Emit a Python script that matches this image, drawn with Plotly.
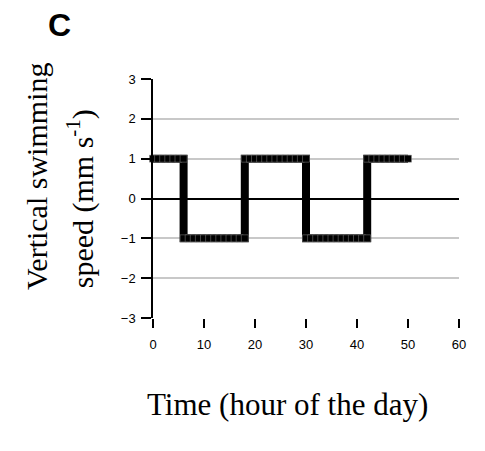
import plotly.graph_objects as go

time_h = [0, 1, 2, 3, 4, 5, 6,
          6, 7, 8, 9, 10, 11, 12, 13, 14, 15, 16, 17, 18,
          18, 19, 20, 21, 22, 23, 24, 25, 26, 27, 28, 29, 30,
          30, 31, 32, 33, 34, 35, 36, 37, 38, 39, 40, 41, 42,
          42, 43, 44, 45, 46, 47, 48, 49, 50]
speed = [1, 1, 1, 1, 1, 1, 1,
         -1, -1, -1, -1, -1, -1, -1, -1, -1, -1, -1, -1, -1,
         1, 1, 1, 1, 1, 1, 1, 1, 1, 1, 1, 1, 1,
         -1, -1, -1, -1, -1, -1, -1, -1, -1, -1, -1, -1, -1,
         1, 1, 1, 1, 1, 1, 1, 1, 1]
x_ticks = [0, 10, 20, 30, 40, 50, 60]
y_ticks = [-3, -2, -1, 0, 1, 2, 3]

fig = go.Figure()
fig.add_trace(go.Scatter(
    x=time_h, y=speed, mode="lines+markers",
    line=dict(color="black", width=8),
    marker=dict(symbol="square", size=7, color="black",
                line=dict(color="#888888", width=0.5)),
    cliponaxis=False, showlegend=False,
))

serif = "Liberation Serif, Times New Roman, serif"
fig.update_layout(
    width=485, height=451,
    margin=dict(l=153, r=26, t=79, b=133),
    paper_bgcolor="white", plot_bgcolor="white",
    font=dict(family="Liberation Sans, Arial", size=13, color="black"),
    xaxis=dict(range=[0, 60], tickvals=x_ticks, showgrid=False, zeroline=False,
               showline=False, ticks="outside", ticklen=9, tickcolor="black",
               tickwidth=1.5, tickfont=dict(size=13), ticklabelstandoff=5),
    yaxis=dict(range=[-3, 3], tickvals=y_ticks, showgrid=True, gridcolor="#c8c8c8",
               gridwidth=1.5, zeroline=True, zerolinecolor="black", zerolinewidth=1.5,
               showline=True, linecolor="black", linewidth=1.5, ticks="outside",
               ticklen=10, tickcolor="black", tickwidth=1.5, tickfont=dict(size=13),
               ticklabelstandoff=3),
    annotations=[
        dict(text="<b>C</b>", x=-0.304, y=1.226, xref="paper", yref="paper",
             xanchor="center", yanchor="middle",
             showarrow=False, font=dict(family="Liberation Sans, Arial", size=32)),
        dict(text="Vertical swimming", x=-0.379, y=0.590,
             xref="paper", yref="paper", xanchor="center", yanchor="middle",
             showarrow=False, textangle=-90,
             font=dict(family=serif, size=30)),
        dict(text="speed (mm s<sup>-1</sup>)", x=-0.236, y=0.500,
             xref="paper", yref="paper", xanchor="center", yanchor="middle",
             showarrow=False, textangle=-90,
             font=dict(family=serif, size=30)),
        dict(text="Time (hour of the day)", x=0.441, y=-0.364, xref="paper", yref="paper",
             xanchor="center", yanchor="middle",
             showarrow=False, font=dict(family=serif, size=31)),
    ],
)

fig.write_html("out.html")
